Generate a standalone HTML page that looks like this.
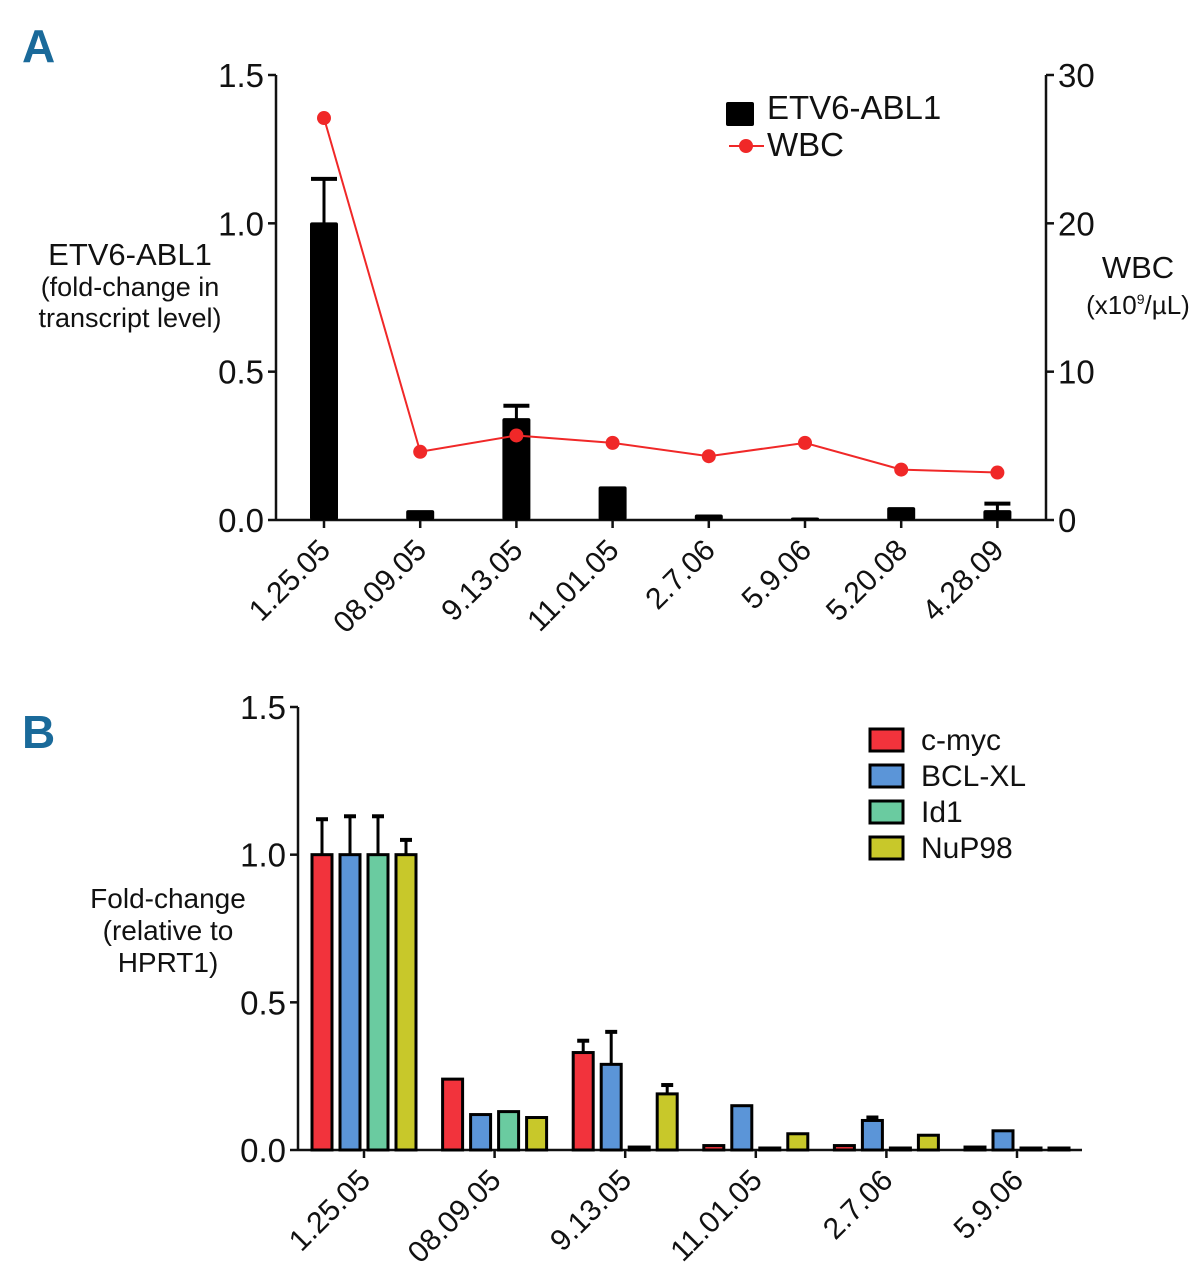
<!DOCTYPE html>
<html><head><meta charset="utf-8"><style>
html,body{margin:0;padding:0;background:#fff}
svg{display:block}
text{font-family:"Liberation Sans Narrow","Liberation Sans",sans-serif;fill:#111}
</style></head><body>
<svg id="fig" width="1203" height="1280" viewBox="0 0 1203 1280" xmlns="http://www.w3.org/2000/svg">
<text x="22" y="62" font-size="46" font-weight="bold" style="fill:#1a6a9a;font-family:'Liberation Sans',sans-serif">A</text>
<text x="22" y="748" font-size="46" font-weight="bold" style="fill:#1a6a9a;font-family:'Liberation Sans',sans-serif">B</text>
<g id="pa"></g>
<g id="pb"></g>
<text x="130" y="265" font-size="31" text-anchor="middle">ETV6-ABL1</text>
<text x="130" y="296" font-size="27" text-anchor="middle">(fold-change in</text>
<text x="130" y="327" font-size="27" text-anchor="middle">transcript level)</text>
<text x="1138" y="278" font-size="31" text-anchor="middle">WBC</text>
<text x="1138" y="314" font-size="26" text-anchor="middle">(x10<tspan font-size="14" dy="-10">9</tspan><tspan dy="10">/µL)</tspan></text>
<text x="168" y="908" font-size="28" text-anchor="middle">Fold-change</text>
<text x="168" y="940" font-size="28" text-anchor="middle">(relative to</text>
<text x="168" y="972" font-size="28" text-anchor="middle">HPRT1)</text>
</svg>
<script>
const NS="http://www.w3.org/2000/svg";
// Panel A data
const catsA=["1.25.05","08.09.05","9.13.05","11.01.05","2.7.06","5.9.06","5.20.08","4.28.09"];
const etvVals=[1.0,0.03,0.34,0.11,0.015,0.005,0.04,0.03];
const etvErr=[1.15,null,0.385,null,null,null,null,0.055];
const wbcVals=[27.1,4.6,5.7,5.2,4.3,5.2,3.4,3.2];
const leftTicksA=["0.0","0.5","1.0","1.5"];
const rightTicksA=["0","10","20","30"];
// Panel B data
const catsB=["1.25.05","08.09.05","9.13.05","11.01.05","2.7.06","5.9.06"];
const seriesB=["c-myc","BCL-XL","Id1","NuP98"];
const colorsB=["#f2333c","#5b95d8","#6acba0","#c8c82a"];
const cmycVals=[1.0,0.24,0.33,0.015,0.015,0.01];
const bclVals=[1.0,0.12,0.29,0.15,0.10,0.065];
const id1Vals=[1.0,0.13,0.01,0.005,0.005,0.0];
const nupVals=[1.0,0.11,0.19,0.055,0.05,0.005];
const cmycErr=[1.12,null,0.37,null,null,null];
const bclErr=[1.13,null,0.40,null,0.11,null];
const id1Err=[1.13,null,null,null,null,null];
const nupErr=[1.05,null,0.22,null,null,null];
const ticksB=["0.0","0.5","1.0","1.5"];

function el(p,tag,a){const e=document.createElementNS(NS,tag);for(const k in a)e.setAttribute(k,a[k]);p.appendChild(e);return e;}
function txt(p,s,a){const e=el(p,"text",a);e.textContent=s;return e;}

// ---- Panel A ----
const A=document.getElementById("pa");
const aL=276,aR=1046,aB=520,aT=75;
const yA=v=>aB-v/1.5*(aB-aT);
const yW=v=>aB-v/30*(aB-aT);
const xA=i=>324+i*96.2;
let e;
e=el(A,"line",{x1:aL,y1:aT,x2:aL,y2:aB,stroke:"#111","stroke-width":2.5});

e=el(A,"line",{x1:aR,y1:aT,x2:aR,y2:aB,stroke:"#111","stroke-width":2.5});

e=el(A,"line",{x1:aL,y1:aB,x2:aR,y2:aB,stroke:"#111","stroke-width":2.5});

leftTicksA.forEach(t=>{const y=yA(+t);el(A,"line",{x1:aL-8,y1:y,x2:aL,y2:y,stroke:"#111","stroke-width":2.5});
 e=txt(A,t,{x:aL-12,y:y+12,"font-size":33,"text-anchor":"end"});
 });
rightTicksA.forEach(t=>{const y=yW(+t);el(A,"line",{x1:aR,y1:y,x2:aR+8,y2:y,stroke:"#111","stroke-width":2.5});
 e=txt(A,t,{x:aR+12,y:y+12,"font-size":33,"text-anchor":"start"});
 });
catsA.forEach((c,i)=>{const x=xA(i);el(A,"line",{x1:x,y1:aB,x2:x,y2:aB+8,stroke:"#111","stroke-width":2.5});
 e=txt(A,c,{x:x+8,y:aB+32,"font-size":30,"text-anchor":"end",transform:`rotate(-45 ${x+8} ${aB+32})`});
 });
etvVals.forEach((v,i)=>{const x=xA(i),w=28;
 if(etvErr[i]!=null){el(A,"line",{x1:x,y1:yA(etvErr[i]),x2:x,y2:yA(v),stroke:"#000","stroke-width":3});
  el(A,"line",{x1:x-13,y1:yA(etvErr[i]),x2:x+13,y2:yA(etvErr[i]),stroke:"#000","stroke-width":4});}
 e=el(A,"rect",{x:x-w/2,y:yA(v)-1,width:w,height:aB-yA(v)+1,fill:"#000",rx:2});
 });
e=el(A,"polyline",{points:wbcVals.map((v,i)=>xA(i)+","+yW(v)).join(" "),fill:"none",stroke:"#f02828","stroke-width":2});

wbcVals.forEach((v,i)=>{e=el(A,"circle",{cx:xA(i),cy:yW(v),r:7,fill:"#f02828"});
 });
e=el(A,"rect",{x:726,y:102,width:28,height:24,fill:"#000",rx:2});

e=txt(A,"ETV6-ABL1",{x:767,y:119,"font-size":33});

el(A,"line",{x1:729,y1:146,x2:764,y2:146,stroke:"#f02828","stroke-width":2});
e=el(A,"circle",{cx:746,cy:146,r:7,fill:"#f02828"});

e=txt(A,"WBC",{x:767,y:156,"font-size":33});


// ---- Panel B ----
const B=document.getElementById("pb");
const bL=298,bR=1082,bB=1150,bT=707;
const yB=v=>bB-v/1.5*(bB-bT);
const xB=i=>364+i*130.6;
e=el(B,"line",{x1:bL,y1:bT,x2:bL,y2:bB,stroke:"#111","stroke-width":2.5});

e=el(B,"line",{x1:bL,y1:bB,x2:bR,y2:bB,stroke:"#111","stroke-width":2.5});

ticksB.forEach(t=>{const y=yB(+t);el(B,"line",{x1:bL-8,y1:y,x2:bL,y2:y,stroke:"#111","stroke-width":2.5});
 e=txt(B,t,{x:bL-12,y:y+12,"font-size":33,"text-anchor":"end"});
 });
catsB.forEach((c,i)=>{const x=xB(i);el(B,"line",{x1:x,y1:bB,x2:x,y2:bB+8,stroke:"#111","stroke-width":2.5});
 e=txt(B,c,{x:x+8,y:bB+32,"font-size":30,"text-anchor":"end",transform:`rotate(-45 ${x+8} ${bB+32})`});
 });
const valsB=[cmycVals,bclVals,id1Vals,nupVals],errB=[cmycErr,bclErr,id1Err,nupErr];
valsB.forEach((arr,s)=>arr.forEach((v,i)=>{const x=xB(i)+(s-1.5)*28,w=20;
 if(errB[s][i]!=null){el(B,"line",{x1:x,y1:yB(errB[s][i]),x2:x,y2:yB(v),stroke:"#000","stroke-width":3});
  el(B,"line",{x1:x-6,y1:yB(errB[s][i]),x2:x+6,y2:yB(errB[s][i]),stroke:"#000","stroke-width":4});}
 const h=Math.max(bB-yB(v),2);
 e=el(B,"rect",{x:x-w/2,y:bB-h,width:w,height:h,fill:colorsB[s],stroke:"#000","stroke-width":3});
 }));
seriesB.forEach((s,k)=>{const y=729+k*36;
 e=el(B,"rect",{x:870,y:y,width:33,height:22,fill:colorsB[k],stroke:"#000","stroke-width":3});
 
 e=txt(B,s,{x:921,y:y+21,"font-size":30});
 });
</script>
</body></html>
